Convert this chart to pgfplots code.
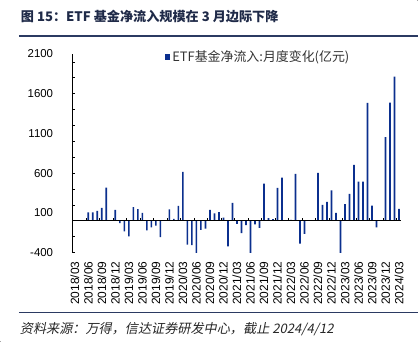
\documentclass[border=0pt]{standalone}
\usepackage{pgfplots}
\usepackage{pgfplotstable}
\pgfplotsset{compat=1.18}
\usepackage{fontspec}
\setmainfont{Liberation Sans}
\newfontfamily\cjk{Noto Sans CJK SC}
\newfontfamily\cjkit{Noto Sans CJK SC}[FakeSlant=0.2]
\definecolor{barblue}{HTML}{0B2F8E}
\definecolor{titleblue}{HTML}{1F2A48}
\definecolor{rulenavy}{HTML}{2B3A62}

\pgfplotstableread{
i v
0 0
1 0
2 5
3 105
4 105
5 126
6 163
7 417
8 5
9 138
10 -30
11 -134
12 -197
13 172
14 147
15 100
16 -121
17 -82
18 -60
19 -205
20 0
21 144
22 23
23 188
24 615
25 -300
26 -308
27 -425
28 -115
29 -100
30 136
31 94
32 109
33 38
34 -322
35 226
36 -38
37 -155
38 -54
39 -419
40 -46
41 -88
42 467
43 33
44 21
45 415
46 542
47 3
48 12
49 590
50 -287
51 -165
52 8
53 2
54 603
55 201
56 239
57 381
58 98
59 -423
60 210
61 339
62 704
63 494
64 494
65 1485
66 189
67 -82
68 3
69 1052
70 1487
71 1814
72 151
}\etfdata

\begin{document}
\begin{tikzpicture}[x=1bp,y=1bp]
\fill[black!35] (-72.7,-90) rectangle (-71.2,-88.5);
\fill[black!35] (344.8,251.5) rectangle (346.3,253);
\path (-72.7,-90) rectangle (346.3,253);
\draw[rulenavy, line width=1.5bp] (-53.7,217) -- (346.3,217);
\draw[rulenavy, line width=1.2bp] (-53.7,-60) -- (346.3,-60);
\path (-51.7,236) node[anchor=west, inner sep=0pt, outer sep=0pt, text=titleblue, font=\cjk\bfseries\fontsize{13.2}{16}\selectfont] {图 15：ETF 基金净流入规模在 3 月边际下降};
\path (-52.7,-77) node[anchor=west, inner sep=0pt, outer sep=0pt, font=\cjkit\fontsize{13.2}{15}\selectfont, text=black!85] {资料来源：万得，信达证券研发中心，截止 2024/4/12};

\begin{axis}[scale only axis,
  width=329.3bp, height=199bp,
  xmin=-0.5, xmax=72.5, ymin=-400, ymax=2100,
  axis y line*=left, axis x line*=bottom,
  x axis line style={draw=none},
  y axis line style={-, line width=0.8bp},
  /pgf/number format/assume math mode=true,
  /pgf/number format/set thousands separator={},
  major tick length=0pt,
  xtick={0,3,...,72},
  xticklabels={2018/03,2018/06,2018/09,2018/12,2019/03,2019/06,2019/09,2019/12,2020/03,2020/06,2020/09,2020/12,2021/03,2021/06,2021/09,2021/12,2022/03,2022/06,2022/09,2022/12,2023/03,2023/06,2023/09,2023/12,2024/03},
  x tick label style={rotate=90, anchor=east, font=\fontsize{12}{14}\selectfont},
  xticklabel shift=5.5bp,
  ytick={-400,100,600,1100,1600,2100},
  y tick label style={font=\fontsize{11.5}{13}\selectfont, xshift=-16bp},
  extra y ticks={-400,-200,...,2000},
  extra y tick labels={},
  extra y tick style={major tick length=2.5bp, tick align=inside, tick style={black, line width=0.6bp}},
  legend style={at={(rel axis cs:0.28,0.985)}, anchor=west, draw=none, fill=none,
    font=\cjk\fontsize{13}{15}\selectfont, inner sep=0pt, text=black!80},
  legend image code/.code={\fill[barblue] (0bp,-2.8bp) rectangle (5.5bp,2.8bp);},
]
\addplot[ybar, bar width=1.7bp, fill=barblue, draw=none] table[x=i,y=v] {\etfdata};
\addlegendentry{ETF基金净流入:月度变化(亿元)}
\end{axis}

\begin{axis}[scale only axis,
  width=329.3bp, height=199bp,
  xmin=-0.5, xmax=72.5, ymin=-400, ymax=2100,
  axis x line=middle, axis y line=none,
  axis line style={-, line width=0.8bp},
  xtick={2.5,5.5,...,71.5}, xticklabels={},
  ytick=\empty,
  major tick length=2.5bp, tick align=inside,
  tick style={black, line width=0.6bp},
]
\addplot[draw=none] coordinates {(0,0)};
\end{axis}
\end{tikzpicture}
\end{document}
